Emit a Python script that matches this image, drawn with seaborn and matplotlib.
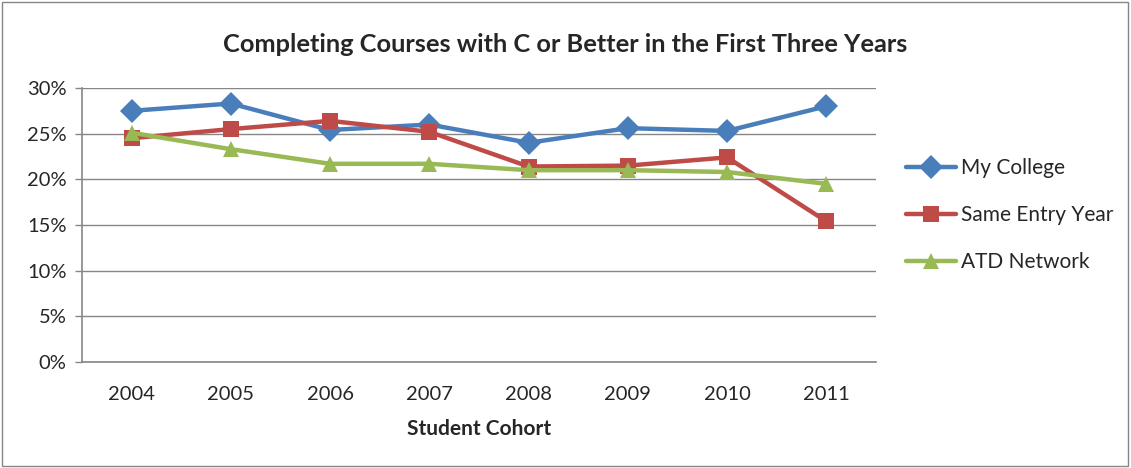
import numpy as np
import pandas as pd
import matplotlib
matplotlib.use('Agg')
import matplotlib.pyplot as plt
import seaborn as sns
from matplotlib.ticker import FuncFormatter, MultipleLocator, FixedLocator
from matplotlib.patches import Rectangle

# 数据
years = [2004, 2005, 2006, 2007, 2008, 2009, 2010, 2011]
my_college = [27.5, 28.3, 25.4, 26.0, 24.0, 25.6, 25.3, 28.0]
same_entry = [24.5, 25.5, 26.4, 25.2, 21.4, 21.5, 22.4, 15.4]
atd_network = [25.1, 23.3, 21.7, 21.7, 21.0, 21.0, 20.8, 19.5]
series_names = ['My College', 'Same Entry Year', 'ATD Network']

df = pd.DataFrame({'year': years, series_names[0]: my_college,
                   series_names[1]: same_entry, series_names[2]: atd_network})
long_df = df.melt(id_vars='year', var_name='series', value_name='pct')

sns.set_theme(style='white')
plt.rcParams['font.family'] = ['Lato', 'DejaVu Sans']

fig = plt.figure(figsize=(11.31, 4.68), dpi=100)
ax = fig.add_axes([0.0725, 0.2265, 0.702, 0.5855])

palette = ['#4A7EBB', '#BE4B48', '#98B954']
sns.lineplot(data=long_df, x='year', y='pct', hue='series', style='series',
             markers=['D', 's', '^'], dashes=False, palette=palette,
             linewidth=3.2, markersize=12, markeredgewidth=0, ax=ax)

ax.set_xlim(2003.5, 2011.5)
ax.set_ylim(0, 30)
ax.yaxis.set_major_locator(MultipleLocator(5))
ax.yaxis.set_major_formatter(FuncFormatter(lambda v, p: f'{v:.0f}%'))
ax.set_xticks(years)
ax.set_xticklabels([str(y) for y in years])
ax.xaxis.set_minor_locator(FixedLocator(np.arange(2003.5, 2012, 1.0)))
ax.tick_params(axis='x', which='major', length=0, labelsize=14.5, pad=17)
ax.tick_params(axis='x', which='minor', length=5, color='#868686', width=1)
ax.tick_params(axis='y', which='major', length=5, color='#868686', width=1,
               labelsize=14.5, pad=6, direction='out', left=True)

ax.grid(axis='y', color='#868686', linewidth=1)
ax.set_axisbelow(True)
for s in ['top', 'right']:
    ax.spines[s].set_visible(False)
for s in ['left', 'bottom']:
    ax.spines[s].set_color('#868686')
    ax.spines[s].set_linewidth(1.2)

ax.set_xlabel('Student Cohort', fontsize=15, fontweight='bold', labelpad=12)
ax.set_ylabel('')
fig.text(0.5, 0.905, 'Completing Courses with C or Better in the First Three Years',
         ha='center', va='center', fontsize=18.3, fontweight='bold')

leg = ax.legend(loc='upper left', bbox_to_anchor=(1.027, 0.775), frameon=False,
                fontsize=15, handlelength=2.4, labelspacing=1.3,
                handletextpad=0.25, borderaxespad=0)
for h in leg.legend_handles:
    h.set_linewidth(3.2)

fig.patches.append(Rectangle((0.002, 0.004), 0.995, 0.992, transform=fig.transFigure,
                             fill=False, edgecolor='#868686', linewidth=1))

fig.savefig('out.png', dpi=100)
